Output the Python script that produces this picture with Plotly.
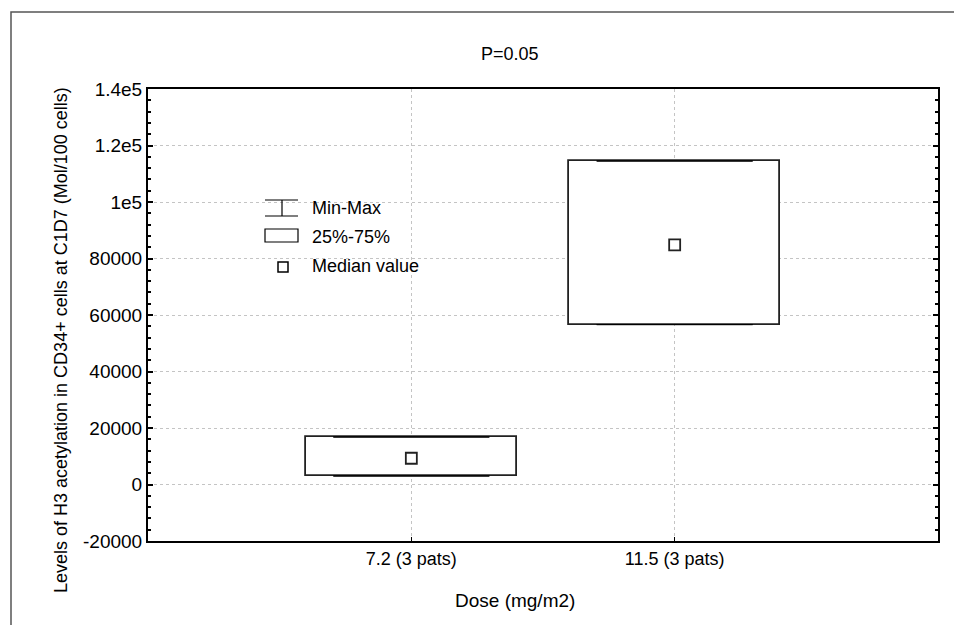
import plotly.graph_objects as go

# ---- data ----
categories = ["7.2 (3 pats)", "11.5 (3 pats)"]
q1_values = [3000, 56600]
q3_values = [16800, 114500]
median_values = [9300, 84800]
min_values = [3000, 56600]
max_values = [16800, 114500]
ytick_vals = [-20000, 0, 20000, 40000, 60000, 80000, 100000, 120000, 140000]
ytick_text = ["-20000", "0", "20000", "40000", "60000", "80000", "1e5", "1.2e5", "1.4e5"]

FONT = "Liberation Sans, Arial, sans-serif"
OFF = 8  # default html body margin
W, H = 962 - 2 * OFF, 633 - 2 * OFF
L, T = 148 - OFF, 89 - OFF
pw, ph = 790, 452
R, B = W - L - pw, H - T - ph

def px(x):  # page pixel -> paper
    return (x - OFF - L) / pw

def py(y):
    return (T + ph - (y - OFF)) / ph

fig = go.Figure()

# 25%-75% boxes
fig.add_trace(go.Bar(
    x=categories,
    base=q1_values,
    y=[b - a for a, b in zip(q1_values, q3_values)],
    width=0.8,
    marker=dict(color="white", line=dict(color="#222222", width=1.8)),
    showlegend=False,
    hoverinfo="skip",
))

# Min-Max whiskers (upper part from Q3 to max, lower part from Q1 to min)
fig.add_trace(go.Scatter(
    x=categories, y=q3_values, mode="markers", marker=dict(size=0.1, opacity=0),
    error_y=dict(type="data", symmetric=False,
                 array=[mx - q for mx, q in zip(max_values, q3_values)],
                 arrayminus=[0] * len(categories),
                 color="black", thickness=1, width=78),
    showlegend=False, hoverinfo="skip",
))
fig.add_trace(go.Scatter(
    x=categories, y=q1_values, mode="markers", marker=dict(size=0.1, opacity=0),
    error_y=dict(type="data", symmetric=False,
                 array=[0] * len(categories),
                 arrayminus=[q - mn for q, mn in zip(q1_values, min_values)],
                 color="black", thickness=1, width=78),
    showlegend=False, hoverinfo="skip",
))

# median marker
fig.add_trace(go.Scatter(
    x=categories, y=median_values, mode="markers",
    marker=dict(symbol="square-open", size=11, color="#222222", line=dict(width=1.8, color="#222222")),
    showlegend=False,
))

shapes = []
# outer frame
shapes.append(dict(type="rect", xref="paper", yref="paper",
                   x0=px(11), x1=px(1000), y0=py(700), y1=py(12),
                   line=dict(color="#555555", width=1.5), layer="below"))
# legend symbols
lx0, lx1, lxc = px(265), px(298), px(282)
shapes += [
    dict(type="line", xref="paper", yref="paper", x0=lx0, x1=lx1, y0=py(200), y1=py(200), line=dict(color="black", width=1.2)),
    dict(type="line", xref="paper", yref="paper", x0=lx0, x1=lx1, y0=py(216), y1=py(216), line=dict(color="black", width=1.2)),
    dict(type="line", xref="paper", yref="paper", x0=lxc, x1=lxc, y0=py(200), y1=py(216), line=dict(color="black", width=1.2)),
    dict(type="rect", xref="paper", yref="paper", x0=lx0, x1=lx1, y0=py(242), y1=py(229), line=dict(color="black", width=1.2), fillcolor="white"),
    dict(type="rect", xref="paper", yref="paper", x0=px(278), x1=px(288), y0=py(272), y1=py(262), line=dict(color="black", width=1.5), fillcolor="white"),
]

annotations = [
    dict(text="Min-Max", x=px(310), y=py(208), xanchor="left", yanchor="middle"),
    dict(text="25%-75%", x=px(310), y=py(237), xanchor="left", yanchor="middle"),
    dict(text="Median value", x=px(310), y=py(266), xanchor="left", yanchor="middle"),
    dict(text="P=0.05", x=px(510), y=py(54), xanchor="center", yanchor="middle"),
    dict(text="Dose (mg/m2)", x=px(515), y=py(600), xanchor="center", yanchor="middle",
         font=dict(family=FONT, size=19)),
    dict(text="Levels of H3 acetylation in CD34+ cells at C1D7 (Mol/100 cells)", x=px(61), y=py(340),
         xanchor="center", yanchor="middle", textangle=-90),
]
for a in annotations:
    a.update(xref="paper", yref="paper", showarrow=False)

fig.update_layout(
    width=W, height=H,
    margin=dict(l=L, r=R, t=T, b=B),
    paper_bgcolor="white", plot_bgcolor="white",
    font=dict(family=FONT, size=18, color="black"),
    shapes=shapes, annotations=annotations,
    showlegend=False, bargap=0,
)

fig.update_xaxes(
    type="category", range=[-1, 2],
    showline=True, linecolor="black", linewidth=2, mirror=True,
    showgrid=True, gridcolor="#c4c4c4", griddash="3px,3px", gridwidth=1,
    ticks="inside", ticklen=4, tickcolor="black",
    tickfont=dict(family=FONT, size=18),
    zeroline=False,
)
fig.update_yaxes(
    range=[-20000, 140000],
    tickvals=ytick_vals, ticktext=ytick_text,
    showline=True, linecolor="black", linewidth=2, mirror="ticks",
    showgrid=True, gridcolor="#c4c4c4", griddash="3px,3px", gridwidth=1,
    ticks="inside", ticklen=5, tickcolor="black", tickwidth=1.5,
    minor=dict(dtick=4000, ticks="inside", ticklen=3, tickcolor="black", showgrid=False),
    tickfont=dict(family=FONT, size=19),
    zeroline=False,
)

fig.write_html("out.html")
